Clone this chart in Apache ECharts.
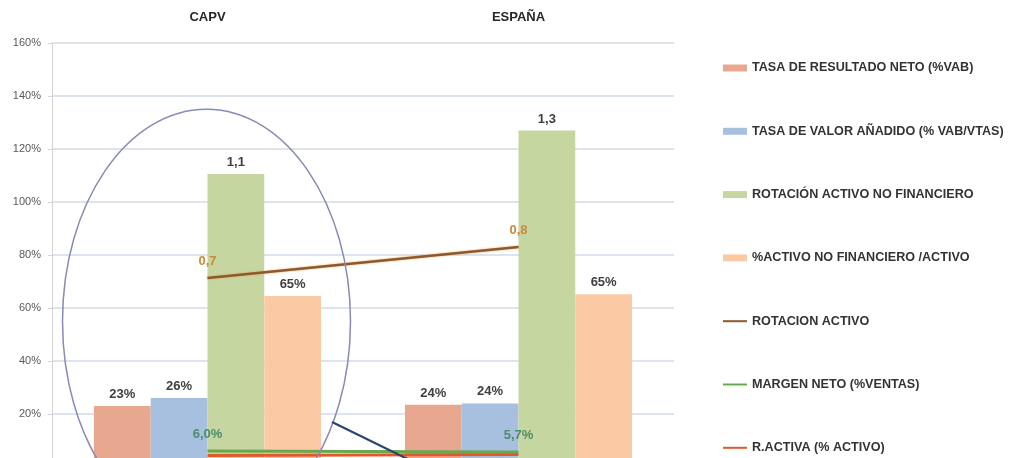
<!DOCTYPE html>
<html>
<head>
<meta charset="utf-8">
<script src="https://cdn.jsdelivr.net/npm/echarts@6/dist/echarts.min.js"></script>
<style>
  html, body { margin: 0; padding: 0; background: #ffffff; }
  #chart { width: 1019px; height: 458px; }
</style>
</head>
<body>
<div id="chart"></div>
<script>
// Regions compared
const categories = ['CAPV', 'ESPAÑA'];

// Bar series (ratios; 1 = 100%)
const tasaResultadoNeto = [0.23, 0.235];
const tasaValorAnadido = [0.26, 0.24];
const rotacionActivoNoFin = [1.106, 1.27];
const activoNoFinPct = [0.645, 0.652];

// Line series
const rotacionActivo = [0.713, 0.83];
const margenNeto = [0.060, 0.057];
const rActiva = [0.043, 0.047];

// Value axis ticks
const yTicks = { min: 0, max: 1.6, interval: 0.2 };

const FONT = "'Liberation Sans', Arial, sans-serif";

const pct = v => Math.round(v * 100) + '%';
const dec1 = v => v.toFixed(1).replace('.', ',');
const pct1 = v => (v * 100).toFixed(1).replace('.', ',') + '%';

const barLabel = fmt => ({
  show: true, position: 'top', distance: 5,
  color: '#404040', fontFamily: FONT, fontWeight: 'bold', fontSize: 13,
  formatter: p => fmt(p.value)
});

const lineLabel = (color, fmt, dist) => ({
  show: true, position: 'top', distance: dist,
  color: color, fontFamily: FONT, fontWeight: 'bold', fontSize: 13,
  formatter: p => fmt(p.value)
});

const chart = echarts.init(document.getElementById('chart'), null, { renderer: 'canvas' });

const option = {
  backgroundColor: '#ffffff',
  animation: false,
  // plot runs past the bottom edge, so the zero line sits just out of view
  grid: { left: 52, right: 345, top: 43, height: 424, outerBoundsMode: 'none', containLabel: false },
  legend: {
    orient: 'vertical',
    left: 723,
    top: 61,
    padding: 0,
    height: 397,
    itemWidth: 24,
    itemHeight: 7,
    itemGap: 49.3,
    textStyle: { color: '#333333', fontFamily: FONT, fontWeight: 'bold', fontSize: 12.6, lineHeight: 14 },
    data: [
      { name: 'TASA DE RESULTADO NETO (%VAB)', icon: 'rect' },
      { name: 'TASA DE VALOR AÑADIDO (% VAB/VTAS)', icon: 'rect' },
      { name: 'ROTACIÓN ACTIVO NO FINANCIERO', icon: 'rect' },
      { name: '%ACTIVO NO FINANCIERO /ACTIVO', icon: 'rect' },
      { name: 'ROTACION ACTIVO', icon: 'path://M0,0H24V2H0Z' },
      { name: 'MARGEN NETO (%VENTAS)', icon: 'path://M0,0H24V2H0Z' },
      { name: 'R.ACTIVA (% ACTIVO)', icon: 'path://M0,0H24V2H0Z' }
    ]
  },
  xAxis: {
    type: 'category',
    position: 'top',
    data: categories,
    axisLine: { show: false },
    axisTick: { show: false },
    axisLabel: { margin: 19, color: '#262626', fontFamily: FONT, fontWeight: 'bold', fontSize: 13 }
  },
  yAxis: {
    type: 'value',
    min: yTicks.min, max: yTicks.max, interval: yTicks.interval,
    axisLine: { show: true, lineStyle: { color: '#d4d4d4', width: 1 } },
    axisTick: { show: true, length: 4, lineStyle: { color: '#d4d4d4' } },
    axisLabel: { margin: 11, color: '#595959', fontFamily: FONT, fontSize: 11, formatter: v => Math.round(v * 100) + '%' },
    splitLine: { show: true, lineStyle: { color: '#d3dbe8', width: 1.5 } }
  },
  series: [
    {
      name: 'TASA DE RESULTADO NETO (%VAB)', type: 'bar', data: tasaResultadoNeto,
      barGap: '0%', barCategoryGap: '27%',
      itemStyle: { color: '#e7a88f' }, label: barLabel(pct)
    },
    {
      name: 'TASA DE VALOR AÑADIDO (% VAB/VTAS)', type: 'bar', data: tasaValorAnadido,
      barGap: '0%', barCategoryGap: '27%',
      itemStyle: { color: '#a7c0e0' }, label: barLabel(pct)
    },
    {
      name: 'ROTACIÓN ACTIVO NO FINANCIERO', type: 'bar', data: rotacionActivoNoFin,
      barGap: '0%', barCategoryGap: '27%',
      itemStyle: { color: '#c5d6a0' }, label: barLabel(dec1)
    },
    {
      name: '%ACTIVO NO FINANCIERO /ACTIVO', type: 'bar', data: activoNoFinPct,
      barGap: '0%', barCategoryGap: '27%',
      itemStyle: { color: '#fbcaa5' }, label: barLabel(pct)
    },
    {
      name: 'ROTACION ACTIVO', type: 'line', data: rotacionActivo,
      symbol: 'circle', symbolSize: 0.1, showSymbol: true, z: 5,
      lineStyle: { color: '#8c5a2c', width: 2.5, shadowColor: 'rgba(240,150,60,0.8)', shadowBlur: 2 },
      itemStyle: { color: '#8c5a2c' },
      label: lineLabel('#c98a3c', dec1, 10)
    },
    {
      name: 'MARGEN NETO (%VENTAS)', type: 'line', data: margenNeto,
      symbol: 'circle', symbolSize: 0.1, showSymbol: true, z: 5,
      lineStyle: { color: '#6aa84f', width: 3 },
      itemStyle: { color: '#6aa84f' },
      label: lineLabel('#4b8c6e', pct1, 10)
    },
    {
      name: 'R.ACTIVA (% ACTIVO)', type: 'line', data: rActiva,
      symbol: 'none', z: 4,
      lineStyle: { color: '#e0592b', width: 3 },
      itemStyle: { color: '#e0592b' }
    }
  ]
};

chart.setOption(option);

// Highlight ring around the CAPV group and the pointer line leaving it
const ringX = chart.convertToPixel({ xAxisIndex: 0 }, 'CAPV');
const ringY = chart.convertToPixel({ yAxisIndex: 0 }, 0.55);
const ringTop = chart.convertToPixel({ yAxisIndex: 0 }, 1.35);
const ringRy = ringY - ringTop;
chart.setOption({
  graphic: [
    {
      type: 'ellipse', z: 10, silent: true,
      shape: { cx: ringX - 1, cy: ringY, rx: 144, ry: ringRy },
      style: { fill: 'none', stroke: '#8a8ab5', lineWidth: 1.5 }
    },
    {
      type: 'line', z: 10, silent: true,
      shape: { x1: 332, y1: 422, x2: 430, y2: 470 },
      style: { stroke: '#2e4470', lineWidth: 2.2 }
    }
  ]
});
</script>
</body>
</html>
